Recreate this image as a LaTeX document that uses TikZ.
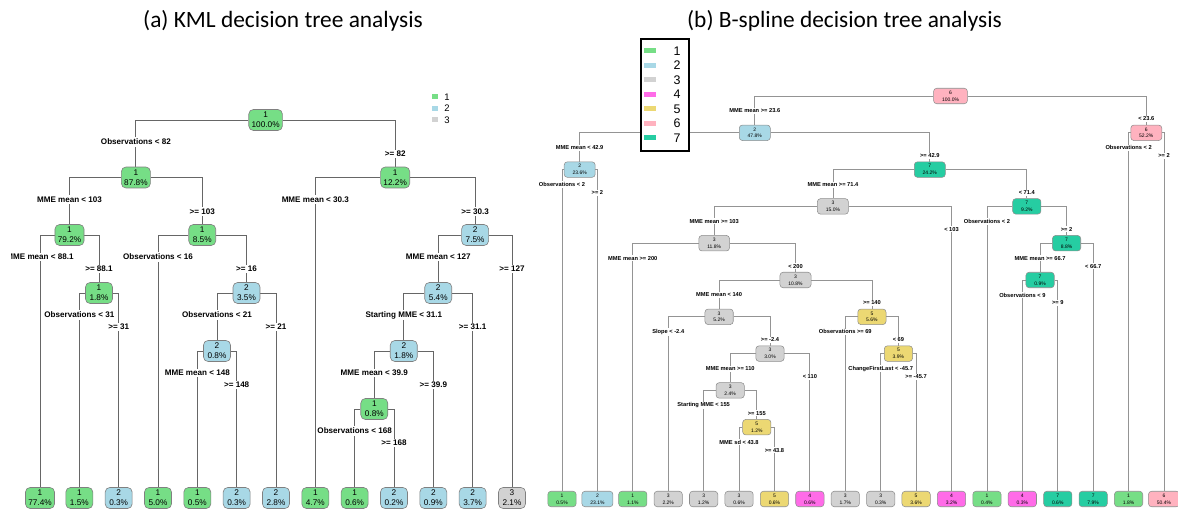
\documentclass[tikz,border=0pt]{standalone}
\usepackage{fontspec}
\setmainfont{Liberation Sans}
\newfontfamily\titlefont{Carlito}
\usetikzlibrary{backgrounds}

\definecolor{cgreen}{HTML}{76DE86}
\definecolor{cblue}{HTML}{A8D8E6}
\definecolor{cgray}{HTML}{D2D2D2}
\definecolor{cmagenta}{HTML}{FF6BE8}
\definecolor{cyellow}{HTML}{ECD873}
\definecolor{cpink}{HTML}{FFB2BF}
\definecolor{cteal}{HTML}{26CDA2}

\tikzset{
  nodea/.style={draw=black!50, rounded corners=2.6pt, line width=0.35pt, align=center,
    minimum width=0.54cm, minimum height=0.42cm, inner xsep=1.6pt, inner ysep=0.6pt,
    font=\fontsize{4.7pt}{5.7pt}\selectfont},
  nodeb/.style={draw=black!45, rounded corners=1.8pt, line width=0.3pt, align=center,
    minimum height=0.31cm, inner xsep=4.8pt, inner ysep=0.4pt,
    font=\fontsize{2.85pt}{3.8pt}\selectfont},
  edgea/.style={draw=black!60, line width=0.55pt},
  edgeb/.style={draw=black!42, line width=0.45pt},
  conda/.style={fill=white, inner sep=0.9pt, font=\fontsize{4.6pt}{5.5pt}\selectfont\bfseries},
  condla/.style={conda, yshift=-0.44cm},
  condra/.style={conda, yshift=-0.68cm},
  condb/.style={fill=white, inner sep=0.6pt, font=\fontsize{3.25pt}{3.9pt}\selectfont\bfseries},
  condlb/.style={condb, yshift=-0.30cm},
  condrb/.style={condb, yshift=-0.46cm},
  titletext/.style={anchor=base, font=\titlefont\fontsize{13.3pt}{16pt}\selectfont}
}

\begin{document}
\begin{tikzpicture}[x=0.02cm, y=-0.02cm]
\useasboundingbox (0,0) rectangle (1178,510);

% titles
\node[titletext] (titlea) at (283,28) {(a) KML decision tree analysis};
\node[titletext] (titleb) at (844.5,28) {(b) B-spline decision tree analysis};

% (a) KML tree
\begin{scope}
\clip (11,0) rectangle (560,510);
\node[nodea, fill=cgreen] (a1) at (265.6,120) {1\\100.0\%};
\node[nodea, fill=cgreen] (a2) at (135.9,177.5) {1\\87.8\%};
\node[nodea, fill=cgreen] (a3) at (395.2,177.5) {1\\12.2\%};
\node[nodea, fill=cgreen] (a4) at (69.5,235) {1\\79.2\%};
\node[nodea, fill=cgreen] (a5) at (202.25,235) {1\\8.5\%};
\node[nodea, fill=cblue] (a9) at (475.1,235) {2\\7.5\%};
\node[nodea, fill=cgreen] (a6) at (99,293) {1\\1.8\%};
\node[nodea, fill=cblue] (a7) at (246.5,293) {2\\3.5\%};
\node[nodea, fill=cblue] (a10) at (438.25,293) {2\\5.4\%};
\node[nodea, fill=cblue] (a8) at (217,351) {2\\0.8\%};
\node[nodea, fill=cblue] (a11) at (403.8,351) {2\\1.8\%};
\node[nodea, fill=cgreen] (a12) at (374.3,409) {1\\0.8\%};

\foreach \i/\cl/\pc/\col in {1/1/77.4/cgreen, 2/1/1.5/cgreen, 3/2/0.3/cblue,
    4/1/5.0/cgreen, 5/1/0.5/cgreen, 6/2/0.3/cblue, 7/2/2.8/cblue, 8/1/4.7/cgreen,
    9/1/0.6/cgreen, 10/2/0.2/cblue, 11/2/0.9/cblue, 12/2/3.7/cblue, 13/3/2.1/cgray}
  \node[nodea, fill=\col] (aL\i) at ({0.667+39.333*\i},498) {\cl\\\pc\%};

\foreach \pa/\lc/\rc/\txl/\txr in {
    a1/a2/a3/{Observations < 82}/{>= 82},
    a2/a4/a5/{MME mean < 103}/{>= 103},
    a3/aL8/a9/{MME mean < 30.3}/{>= 30.3},
    a4/aL1/a6/{MME mean < 88.1}/{>= 88.1},
    a5/aL4/a7/{Observations < 16}/{>= 16},
    a9/a10/aL13/{MME mean < 127}/{>= 127},
    a6/aL2/aL3/{Observations < 31}/{>= 31},
    a7/a8/aL7/{Observations < 21}/{>= 21},
    a10/a11/aL12/{Starting MME < 31.1}/{>= 31.1},
    a8/aL5/aL6/{MME mean < 148}/{>= 148},
    a11/a12/aL11/{MME mean < 39.9}/{>= 39.9},
    a12/aL9/aL10/{Observations < 168}/{>= 168}} {
  \begin{scope}[on background layer]
    \draw[edgea] (\pa.west) -| (\lc.north);
    \draw[edgea] (\pa.east) -| (\rc.north);
  \end{scope}
  \node[condla] at (\lc |- \pa) {\txl};
  \node[condra] at (\rc |- \pa) {\txr};
}
\end{scope}

% legend (a)
\foreach \i/\col in {1/cgreen, 2/cblue, 3/cgray} {
  \fill[\col] (432,{83+11.5*\i}) rectangle (438,{88+11.5*\i});
  \node[font=\fontsize{5.4pt}{6pt}\selectfont] (lega\i) at (447,{85.5+11.5*\i}) {\i};
}

% (b) B-spline tree
\node[nodeb, fill=cpink] (b1) at (950.5,96) {6\\100.0\%};
\node[nodeb, fill=cblue] (b2) at (754.8,132.8) {2\\47.8\%};
\node[nodeb, fill=cpink] (b3) at (1146.3,132.8) {6\\52.2\%};
\node[nodeb, fill=cblue] (b4) at (579.7,169.6) {2\\23.6\%};
\node[nodeb, fill=cteal] (b5) at (929.8,169.6) {7\\24.2\%};
\node[nodeb, fill=cgray] (b6) at (832.9,206.4) {3\\15.0\%};
\node[nodeb, fill=cteal] (b7) at (1026.8,206.4) {7\\9.2\%};
\node[nodeb, fill=cgray] (b8) at (714.2,243.2) {3\\11.8\%};
\node[nodeb, fill=cteal] (b9) at (1066.6,243.2) {7\\8.8\%};
\node[nodeb, fill=cgray] (b10) at (795.5,280) {3\\10.8\%};
\node[nodeb, fill=cteal] (b11) at (1040.1,280) {7\\0.9\%};
\node[nodeb, fill=cgray] (b12) at (719.1,316.8) {3\\5.2\%};
\node[nodeb, fill=cyellow] (b13) at (871.9,316.8) {5\\5.6\%};
\node[nodeb, fill=cgray] (b14) at (770,353.6) {3\\3.0\%};
\node[nodeb, fill=cyellow] (b15) at (898.4,353.6) {5\\3.9\%};
\node[nodeb, fill=cgray] (b16) at (730.2,390.4) {3\\2.4\%};
\node[nodeb, fill=cyellow] (b17) at (756.8,427.2) {5\\1.2\%};

\foreach \i/\cl/\pc/\col in {1/1/0.5/cgreen, 2/2/23.1/cblue, 3/1/1.1/cgreen,
    4/3/2.2/cgray, 5/3/1.2/cgray, 6/3/0.6/cgray, 7/5/0.6/cyellow, 8/4/0.6/cmagenta,
    9/3/1.7/cgray, 10/3/0.3/cgray, 11/5/3.6/cyellow, 12/4/3.2/cmagenta,
    13/1/0.4/cgreen, 14/4/0.3/cmagenta, 15/7/0.6/cteal, 16/7/7.9/cteal,
    17/1/1.8/cgreen, 18/6/50.4/cpink}
  \node[nodeb, fill=\col] (bL\i) at ({526.588+35.412*\i},499) {\cl\\\pc\%};

\foreach \pa/\lc/\rc/\txl/\txr in {
    b1/b2/b3/{MME mean >= 23.6}/{< 23.6},
    b2/b4/b5/{MME mean < 42.9}/{>= 42.9},
    b3/bL17/bL18/{Observations < 2}/{>= 2},
    b4/bL1/bL2/{Observations < 2}/{>= 2},
    b5/b6/b7/{MME mean >= 71.4}/{< 71.4},
    b6/b8/bL12/{MME mean >= 103}/{< 103},
    b7/bL13/b9/{Observations < 2}/{>= 2},
    b8/bL3/b10/{MME mean >= 200}/{< 200},
    b9/b11/bL16/{MME mean >= 66.7}/{< 66.7},
    b10/b12/b13/{MME mean < 140}/{>= 140},
    b11/bL14/bL15/{Observations < 9}/{>= 9},
    b12/bL4/b14/{Slope < -2.4}/{>= -2.4},
    b13/bL9/b15/{Observations >= 69}/{< 69},
    b14/b16/bL8/{MME mean >= 110}/{< 110},
    b15/bL10/bL11/{ChangeFirstLast < -45.7}/{>= -45.7},
    b16/bL5/b17/{Starting MME < 155}/{>= 155},
    b17/bL6/bL7/{MME sd < 43.8}/{>= 43.8}} {
  \begin{scope}[on background layer]
    \draw[edgeb] (\pa.west) -| (\lc.north);
    \draw[edgeb] (\pa.east) -| (\rc.north);
  \end{scope}
  \node[condlb] at (\lc |- \pa) {\txl};
  \node[condrb] at (\rc |- \pa) {\txr};
}

% legend (b)
\draw[line width=1.1pt, fill=white] (641,39) rectangle (689,151);
\foreach \i/\col in {1/cgreen, 2/cblue, 3/cgray, 4/cmagenta, 5/cyellow, 6/cpink, 7/cteal} {
  \fill[\col] (644,{34+14.5*\i}) rectangle (656,{39+14.5*\i});
  \node[font=\fontsize{7.1pt}{8pt}\selectfont] (legb\i) at (677,{36.5+14.5*\i}) {\i};
}
\end{tikzpicture}
\end{document}
